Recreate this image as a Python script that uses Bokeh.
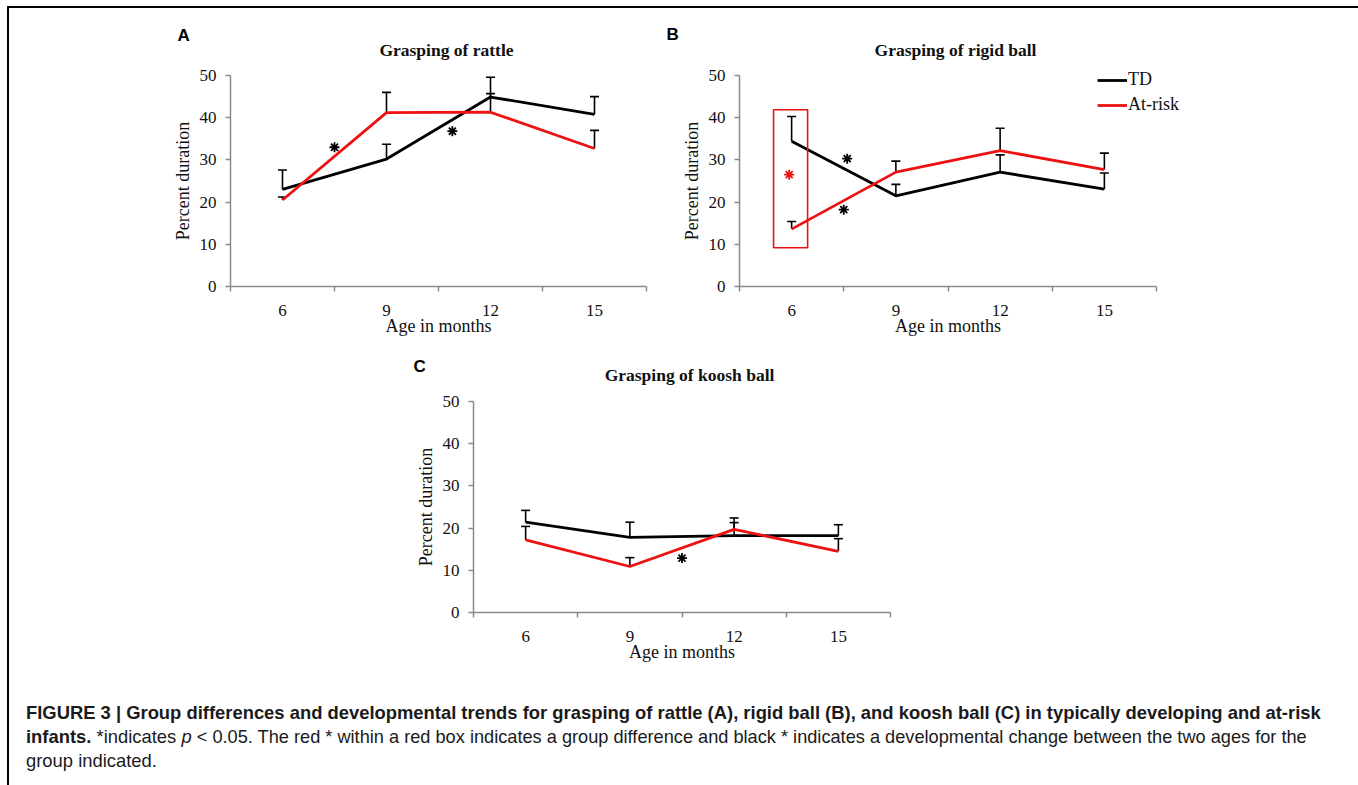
from bokeh.plotting import figure
from bokeh.models import (Range1d, FixedTicker, Whisker, TeeHead, ColumnDataSource,
                          Label, Legend, LegendItem, BoxAnnotation, LinearAxis, Div)
from bokeh.layouts import column
from bokeh.embed import file_html
from bokeh.resources import INLINE

# ---------------- data ----------------
ages = [6, 9, 12, 15]
age_bounds = [4.5, 7.5, 10.5, 13.5, 16.5]
y_ticks = [0, 10, 20, 30, 40, 50]

rattle_td = [23.0, 30.2, 44.9, 40.8]
rattle_td_err = [27.6, 33.7, 49.6, 45.0]
rattle_risk = [20.5, 41.2, 41.3, 32.7]
rattle_risk_err = [21.2, 46.0, 45.7, 37.0]
rattle_star_x = [7.5, 10.9]
rattle_star_y = [33.0, 36.8]

rigid_td = [34.4, 21.5, 27.1, 23.1]
rigid_td_err = [40.3, 24.2, 31.2, 26.9]
rigid_risk = [13.6, 27.1, 32.2, 27.7]
rigid_risk_err = [15.4, 29.7, 37.5, 31.6]
rigid_star_x = [7.6, 7.5]
rigid_star_y = [30.3, 18.2]
rigid_diff_box = [5.48, 6.46, 9.2, 41.9]   # left, right, bottom, top
rigid_diff_star_x = [5.93]
rigid_diff_star_y = [26.5]

koosh_td = [21.4, 17.8, 18.2, 18.2]
koosh_td_err = [24.2, 21.4, 22.4, 20.8]
koosh_risk = [17.2, 10.9, 19.7, 14.5]
koosh_risk_err = [20.4, 13.0, 21.3, 17.5]
koosh_star_x = [10.5]
koosh_star_y = [12.9]

series_names = ["TD", "At-risk"]
panel_titles = ["Grasping of rattle", "Grasping of rigid ball", "Grasping of koosh ball"]
panel_letters = ["A", "B", "C"]
x_label = "Age in months"
y_label = "Percent duration"

caption_1 = ("FIGURE 3 | Group differences and developmental trends for grasping of rattle (A), "
             "rigid ball (B), and koosh ball (C) in typically developing and at-risk")
caption_2a = "infants."
caption_2b = "*indicates"
caption_2c = "p"
caption_2d = ("&lt; 0.05. The red * within a red box indicates a group difference and black * "
              "indicates a developmental change between the two ages for the")
caption_3 = "group indicated."

# ---------------- style / layout ----------------
RED = "#ee1111"
BLACK = "#000000"
AXIS_GREY = "#8a8a8a"
SERIF = "Liberation Serif"
SANS = "Liberation Sans"

W, H = 1346, 682

# panel frame geometry in canvas pixels (x from left, y from bottom)
geo = {
    "A": dict(x0=221, x1=637, y0=404, y1=615, tx=437, ty=641, lx=168, ly=655),
    "B": dict(x0=730, x1=1147, y0=404, y1=615, tx=946, ty=641, lx=657, ly=656),
    "C": dict(x0=464, x1=881, y0=78, y1=289, tx=680, ty=316, lx=404, ly=324),
}

p = figure(width=W, height=H, x_range=Range1d(0, W), y_range=Range1d(0, H),
           x_axis_type=None, y_axis_type=None, output_backend="svg",
           toolbar_location=None, min_border=0)
p.outline_line_color = None
p.background_fill_color = "white"
p.border_fill_color = "white"

for key, g in geo.items():
    sx = (g["x1"] - g["x0"]) / (age_bounds[-1] - age_bounds[0])
    xs = age_bounds[0] - g["x0"] / sx
    sy = (g["y1"] - g["y0"]) / (y_ticks[-1] - y_ticks[0])
    ys = y_ticks[0] - g["y0"] / sy
    p.extra_x_ranges["x" + key] = Range1d(xs, xs + W / sx)
    p.extra_y_ranges["y" + key] = Range1d(ys, ys + H / sy)


def style_axis(ax):
    ax.axis_line_color = AXIS_GREY
    ax.axis_line_width = 1.5
    ax.major_label_text_font = SERIF
    ax.major_label_text_font_size = "17px"
    ax.major_label_text_color = "#111111"
    ax.axis_label_text_font = SERIF
    ax.axis_label_text_font_style = "normal"
    ax.axis_label_text_color = "#111111"


def panel(key, idx, td, td_err, rk, rk_err, star_x, star_y):
    xn, yn = "x" + key, "y" + key
    g = geo[key]
    xa = LinearAxis(x_range_name=xn, y_range_name=yn, fixed_location=0,
                    bounds=(age_bounds[0], age_bounds[-1]),
                    ticker=FixedTicker(ticks=ages, minor_ticks=age_bounds),
                    axis_label=x_label)
    style_axis(xa)
    xa.major_tick_line_color = None
    xa.major_tick_out = 0
    xa.major_tick_in = 0
    xa.minor_tick_line_color = AXIS_GREY
    xa.minor_tick_line_width = 1.5
    xa.minor_tick_out = 5
    xa.minor_tick_in = 0
    xa.major_label_standoff = 13
    xa.axis_label_text_font_size = "18px"
    xa.axis_label_standoff = -3
    p.add_layout(xa, "below")

    ya = LinearAxis(x_range_name=xn, y_range_name=yn, fixed_location=age_bounds[0],
                    bounds=(y_ticks[0], y_ticks[-1]), ticker=FixedTicker(ticks=y_ticks),
                    axis_label=y_label)
    style_axis(ya)
    ya.major_tick_line_color = AXIS_GREY
    ya.major_tick_line_width = 1.5
    ya.major_tick_out = 5
    ya.major_tick_in = 0
    ya.minor_tick_line_color = None
    ya.major_label_standoff = 9
    ya.axis_label_text_font_size = "18px"
    ya.axis_label_standoff = 4
    p.add_layout(ya, "left")

    l_td = p.line(ages, td, line_color=BLACK, line_width=2.8, x_range_name=xn, y_range_name=yn)
    l_rk = p.line(ages, rk, line_color=RED, line_width=2.8, x_range_name=xn, y_range_name=yn)

    for base, top in ((td, td_err), (rk, rk_err)):
        src = ColumnDataSource(dict(x=ages, lo=base, hi=top))
        p.add_layout(Whisker(base="x", lower="lo", upper="hi", source=src,
                             dimension="height", line_color=BLACK, line_width=1.6,
                             lower_head=None, x_range_name=xn, y_range_name=yn,
                             upper_head=TeeHead(size=9, line_color=BLACK, line_width=1.6)))

    p.scatter(star_x, star_y, marker="asterisk", size=10, line_color=BLACK, line_width=1.8,
              x_range_name=xn, y_range_name=yn)

    p.add_layout(Label(x=g["tx"], y=g["ty"], x_units="screen", y_units="screen",
                       text=panel_titles[idx], text_align="center",
                       text_baseline="alphabetic", text_font=SERIF,
                       text_font_style="bold", text_font_size="17.5px",
                       text_color="#111111"))
    p.add_layout(Label(x=g["lx"], y=g["ly"], x_units="screen", y_units="screen",
                       text=panel_letters[idx], text_align="left",
                       text_baseline="alphabetic", text_font=SANS,
                       text_font_style="bold", text_font_size="17px", text_color=BLACK))
    return l_td, l_rk


panel("A", 0, rattle_td, rattle_td_err, rattle_risk, rattle_risk_err,
      rattle_star_x, rattle_star_y)
b_td, b_rk = panel("B", 1, rigid_td, rigid_td_err, rigid_risk, rigid_risk_err,
                   rigid_star_x, rigid_star_y)
panel("C", 2, koosh_td, koosh_td_err, koosh_risk, koosh_risk_err,
      koosh_star_x, koosh_star_y)

p.add_layout(BoxAnnotation(left=rigid_diff_box[0], right=rigid_diff_box[1],
                           bottom=rigid_diff_box[2], top=rigid_diff_box[3],
                           x_range_name="xB", y_range_name="yB",
                           fill_alpha=0, line_color=RED, line_alpha=1, line_width=1.6))
p.scatter(rigid_diff_star_x, rigid_diff_star_y, marker="asterisk", size=10,
          line_color=RED, line_width=1.8, x_range_name="xB", y_range_name="yB")

legend = Legend(items=[LegendItem(label=series_names[0], renderers=[b_td]),
                       LegendItem(label=series_names[1], renderers=[b_rk])],
                location=(1088, 575), glyph_width=30, glyph_height=20, label_height=20,
                label_standoff=1, padding=0, margin=0, spacing=4,
                border_line_color=None, background_fill_alpha=0,
                label_text_font=SERIF, label_text_font_size="18px",
                label_text_color="#111111")
p.add_layout(legend)

# ---------------- caption ----------------
cap_html = (
    '<div style="font-family: \'Liberation Sans\', Arial, sans-serif; font-size: 18.4px; '
    'line-height: 24px; color: #1a1a1a; padding: 6px 0 0 12px; white-space: nowrap;">'
    f'<b>{caption_1}</b><br>'
    f'<b>{caption_2a}</b> {caption_2b} <i>{caption_2c}</i> '
    f'<span style="font-size: 18.2px;">{caption_2d}</span><br>'
    f'{caption_3}</div>'
)
cap = Div(text=cap_html, width=W, height=94)

layout = column(p, cap,
                styles={"margin-left": "7px", "margin-top": "6px",
                        "border-top": "2px solid black", "border-left": "2px solid black",
                        "border-right": "2px solid black"})

open("out.html", "w").write(file_html(layout, INLINE))
